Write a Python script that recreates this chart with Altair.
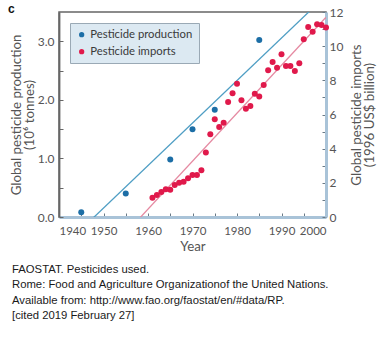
import altair as alt
import pandas as pd

# Pesticide production (left axis, 10^6 tonnes)
prod_years = [1945, 1955, 1965, 1970, 1975, 1985]
prod_vals = [0.08, 0.40, 0.98, 1.50, 1.83, 3.02]

# Pesticide imports (right axis, 1996 US$ billion)
imp_years = [1961, 1962, 1963, 1964, 1965, 1966, 1967, 1968, 1969, 1970,
             1971, 1972, 1973, 1974, 1975, 1976, 1977, 1978, 1979, 1980,
             1981, 1982, 1983, 1984, 1985, 1986, 1987, 1988, 1989, 1990,
             1991, 1992, 1993, 1994, 1995, 1996, 1997, 1998, 1999, 2000]
imp_vals = [1.13, 1.29, 1.46, 1.62, 1.60, 1.87, 2.01, 2.07, 2.27, 2.46,
            2.46, 2.73, 3.77, 4.84, 5.72, 5.27, 5.52, 6.73, 7.24, 7.80,
            6.83, 6.34, 6.50, 7.22, 7.05, 7.73, 8.59, 9.07, 8.74, 9.52,
            8.84, 8.84, 8.55, 9.00, 10.40, 11.12, 10.85, 11.28, 11.24, 11.10]

series_names = ["Pesticide production", "Pesticide imports"]
series_colors = ["#1c6ea6", "#e0194b"]

x_ticks = [1940, 1945, 1950, 1955, 1960, 1965, 1970, 1975, 1980, 1985, 1990, 1995, 2000]
left_ticks = [0, 0.5, 1.0, 1.5, 2.0, 2.5, 3.0]
right_ticks = [0, 1, 2, 3, 4, 5, 6, 7, 8, 9, 10, 11, 12]

caption = ("FAOSTAT. Pesticides used.\n"
           "Rome: Food and Agriculture Organizationof the United Nations.\n"
           "Available from: http://www.fao.org/faostat/en/#data/RP.\n"
           "[cited 2019 February 27]")

prod_df = pd.DataFrame({"year": prod_years, "value": prod_vals, "series": series_names[0]})
imp_df = pd.DataFrame({"year": imp_years, "value": imp_vals, "series": series_names[1]})

FONT = "Lato"
GREY = "#555555"
INWARD = alt.ExprRef(expr="-4")

x_enc = alt.X("year:Q",
              scale=alt.Scale(domain=[1940, 2000], nice=False, zero=False),
              axis=alt.Axis(values=x_ticks, title="Year",
                            labelExpr="datum.value % 10 == 0 ? datum.value : ''",
                            format="d", grid=False, labelOverlap=False,
                            domainColor="#a9c3d8", domainWidth=3,
                            tickColor="#6b7a86", tickSize=INWARD, labelPadding=12,
                            labelFontSize=11.5, titlePadding=3))

color_enc = alt.Color("series:N",
                      scale=alt.Scale(domain=series_names, range=series_colors),
                      legend=alt.Legend(orient="none", legendX=11, legendY=11,
                                        title=None, fillColor="#dce9f2",
                                        strokeColor="#9aa9b5", padding=6,
                                        symbolType="circle", symbolSize=28,
                                        symbolStrokeWidth=0,
                                        labelFontSize=11.3, labelColor="#3a3a3a",
                                        labelFont=FONT, rowPadding=5,
                                        symbolOffset=0, labelOffset=3))

left_y = alt.Y("value:Q",
               scale=alt.Scale(domain=[0, 3.5], nice=False),
               axis=alt.Axis(values=left_ticks, orient="left", labelOverlap=False,
                             labelExpr="datum.value % 1 == 0 ? format(datum.value, '.1f') : ''",
                             title=["Global pesticide production", "(10⁶ tonnes)"],
                             grid=False, domainColor="#666666", domainWidth=1.8,
                             tickColor="#666666", tickSize=INWARD, labelPadding=9,
                             titlePadding=1, titleLineHeight=13))

right_y = alt.Y("value:Q",
                scale=alt.Scale(domain=[0, 12], nice=False),
                axis=alt.Axis(values=right_ticks, orient="right", labelOverlap=False,
                              labelExpr="datum.value % 2 == 0 ? datum.value : ''",
                              title=["Global pesticide imports", "(1996 US$ billion)"],
                              titleAngle=270, grid=False, titleLineHeight=13,
                              domainColor="#a9c3d8", domainWidth=3,
                              tickColor="#6b7a86", tickSize=INWARD, labelPadding=7,
                              titlePadding=8))

prod_pts = alt.Chart(prod_df).mark_circle(size=36, opacity=1).encode(
    x=x_enc, y=left_y, color=color_enc)
prod_line = alt.Chart(prod_df).transform_regression(
    "year", "value", extent=[1940, 2000]).mark_line(
    color="#4f9ec4", strokeWidth=1.3, clip=True).encode(
    x=x_enc, y=left_y)

imp_pts = alt.Chart(imp_df).mark_circle(size=36, opacity=1).encode(
    x=x_enc, y=right_y, color=color_enc)
imp_line = alt.Chart(imp_df).transform_regression(
    "year", "value", extent=[1940, 2000]).mark_line(
    color="#e58aa2", strokeWidth=1.3, clip=True).encode(
    x=x_enc, y=right_y)

left_layer = alt.layer(prod_line, prod_pts)
right_layer = alt.layer(imp_line, imp_pts)

cap_df = pd.DataFrame({"t": [caption]})
cap = alt.Chart(cap_df).mark_text(
    align="left", baseline="top", font="Liberation Sans", fontSize=11.3,
    color="#1a1a1a", lineBreak="\n", lineHeight=15.5).encode(
    text="t:N", x=alt.value(-47), y=alt.value(251.5))

lab_df = pd.DataFrame({"t": ["c"]})
lab = alt.Chart(lab_df).mark_text(
    align="left", baseline="middle", font="Liberation Sans", fontSize=12,
    fontWeight="bold", color="#111111").encode(
    text="t:N", x=alt.value(-51), y=alt.value(-3))

chart = alt.layer(left_layer, right_layer, cap, lab).resolve_scale(
    y="independent").properties(
    width=267, height=205,
    background="white",
    autosize=alt.AutoSizeParams(type="none"),
    padding={"left": 59, "top": 12, "right": 64, "bottom": 121}
).configure_view(stroke="#666666", strokeWidth=1.5).configure_axis(
    labelFont=FONT, titleFont=FONT, labelFontSize=12, titleFontSize=13.3,
    labelColor=GREY, titleColor=GREY, titleFontWeight="normal"
)

chart.save("out.html", embed_options={"renderer": "svg", "actions": False})
